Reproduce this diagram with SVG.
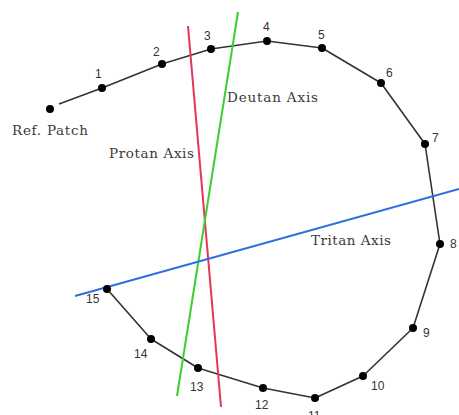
<svg xmlns="http://www.w3.org/2000/svg" width="459" height="415" viewBox="0 0 459 415">
<style>
.path{fill:none;stroke:#333;stroke-width:1.6;stroke-linejoin:round}
.dot{fill:#000}
.num{font-family:"Liberation Sans",Arial,sans-serif;font-size:12px;fill:#333}
.lbl{font-family:"DejaVu Serif","Liberation Serif",serif;font-size:13.5px;fill:#3a3a3a}
.axis{fill:none;stroke-width:2}
</style>
<rect width="459" height="415" fill="#fff"/>
<g id="connectors">
<polyline class="path" points="59,104 102,88 162,64 211,49 267,41 322,48 381,83 425,144 440,244 413,328 363,376 315,398 263,388 198,368 151,339 107,289"/>
<line id="protan" class="axis" stroke="#e8345a" x1="188" y1="26" x2="221" y2="407"/>
<line id="deutan" class="axis" stroke="#3ccf2e" x1="238" y1="12" x2="177" y2="396"/>
<line id="tritan" class="axis" stroke="#2e6fe0" x1="75" y1="296" x2="459" y2="189"/>
</g>
<g id="ref"><circle class="dot" cx="50" cy="109" r="4"/><text class="lbl" x="12" y="135" textLength="76">Ref. Patch</text></g>
<g id="n1"><circle class="dot" cx="102" cy="88" r="4"/><text class="num" x="95" y="78">1</text></g>
<g id="n2"><circle class="dot" cx="162" cy="64" r="4"/><text class="num" x="153" y="56">2</text></g>
<g id="n3"><circle class="dot" cx="211" cy="49" r="4"/><text class="num" x="204" y="40">3</text></g>
<g id="n4"><circle class="dot" cx="267" cy="41" r="4"/><text class="num" x="263" y="31">4</text></g>
<g id="n5"><circle class="dot" cx="322" cy="48" r="4"/><text class="num" x="318" y="39">5</text></g>
<g id="n6"><circle class="dot" cx="381" cy="83" r="4"/><text class="num" x="386" y="77">6</text></g>
<g id="n7"><circle class="dot" cx="425" cy="144" r="4"/><text class="num" x="432" y="142">7</text></g>
<g id="n8"><circle class="dot" cx="440" cy="244" r="4"/><text class="num" x="450" y="248">8</text></g>
<g id="n9"><circle class="dot" cx="413" cy="328" r="4"/><text class="num" x="423" y="337">9</text></g>
<g id="n10"><circle class="dot" cx="363" cy="376" r="4"/><text class="num" x="371" y="390">10</text></g>
<g id="n11"><circle class="dot" cx="315" cy="398" r="4"/><text class="num" x="308" y="420">11</text></g>
<g id="n12"><circle class="dot" cx="263" cy="388" r="4"/><text class="num" x="255" y="409">12</text></g>
<g id="n13"><circle class="dot" cx="198" cy="368" r="4"/><text class="num" x="190" y="391">13</text></g>
<g id="n14"><circle class="dot" cx="151" cy="339" r="4"/><text class="num" x="134" y="358">14</text></g>
<g id="n15"><circle class="dot" cx="107" cy="289" r="4"/><text class="num" x="86" y="303">15</text></g>
<g id="labels">
<text class="lbl" x="109" y="158" textLength="85">Protan Axis</text>
<text class="lbl" x="227" y="102" textLength="91">Deutan Axis</text>
<text class="lbl" x="311" y="245" textLength="80">Tritan Axis</text>
</g>
</svg>
